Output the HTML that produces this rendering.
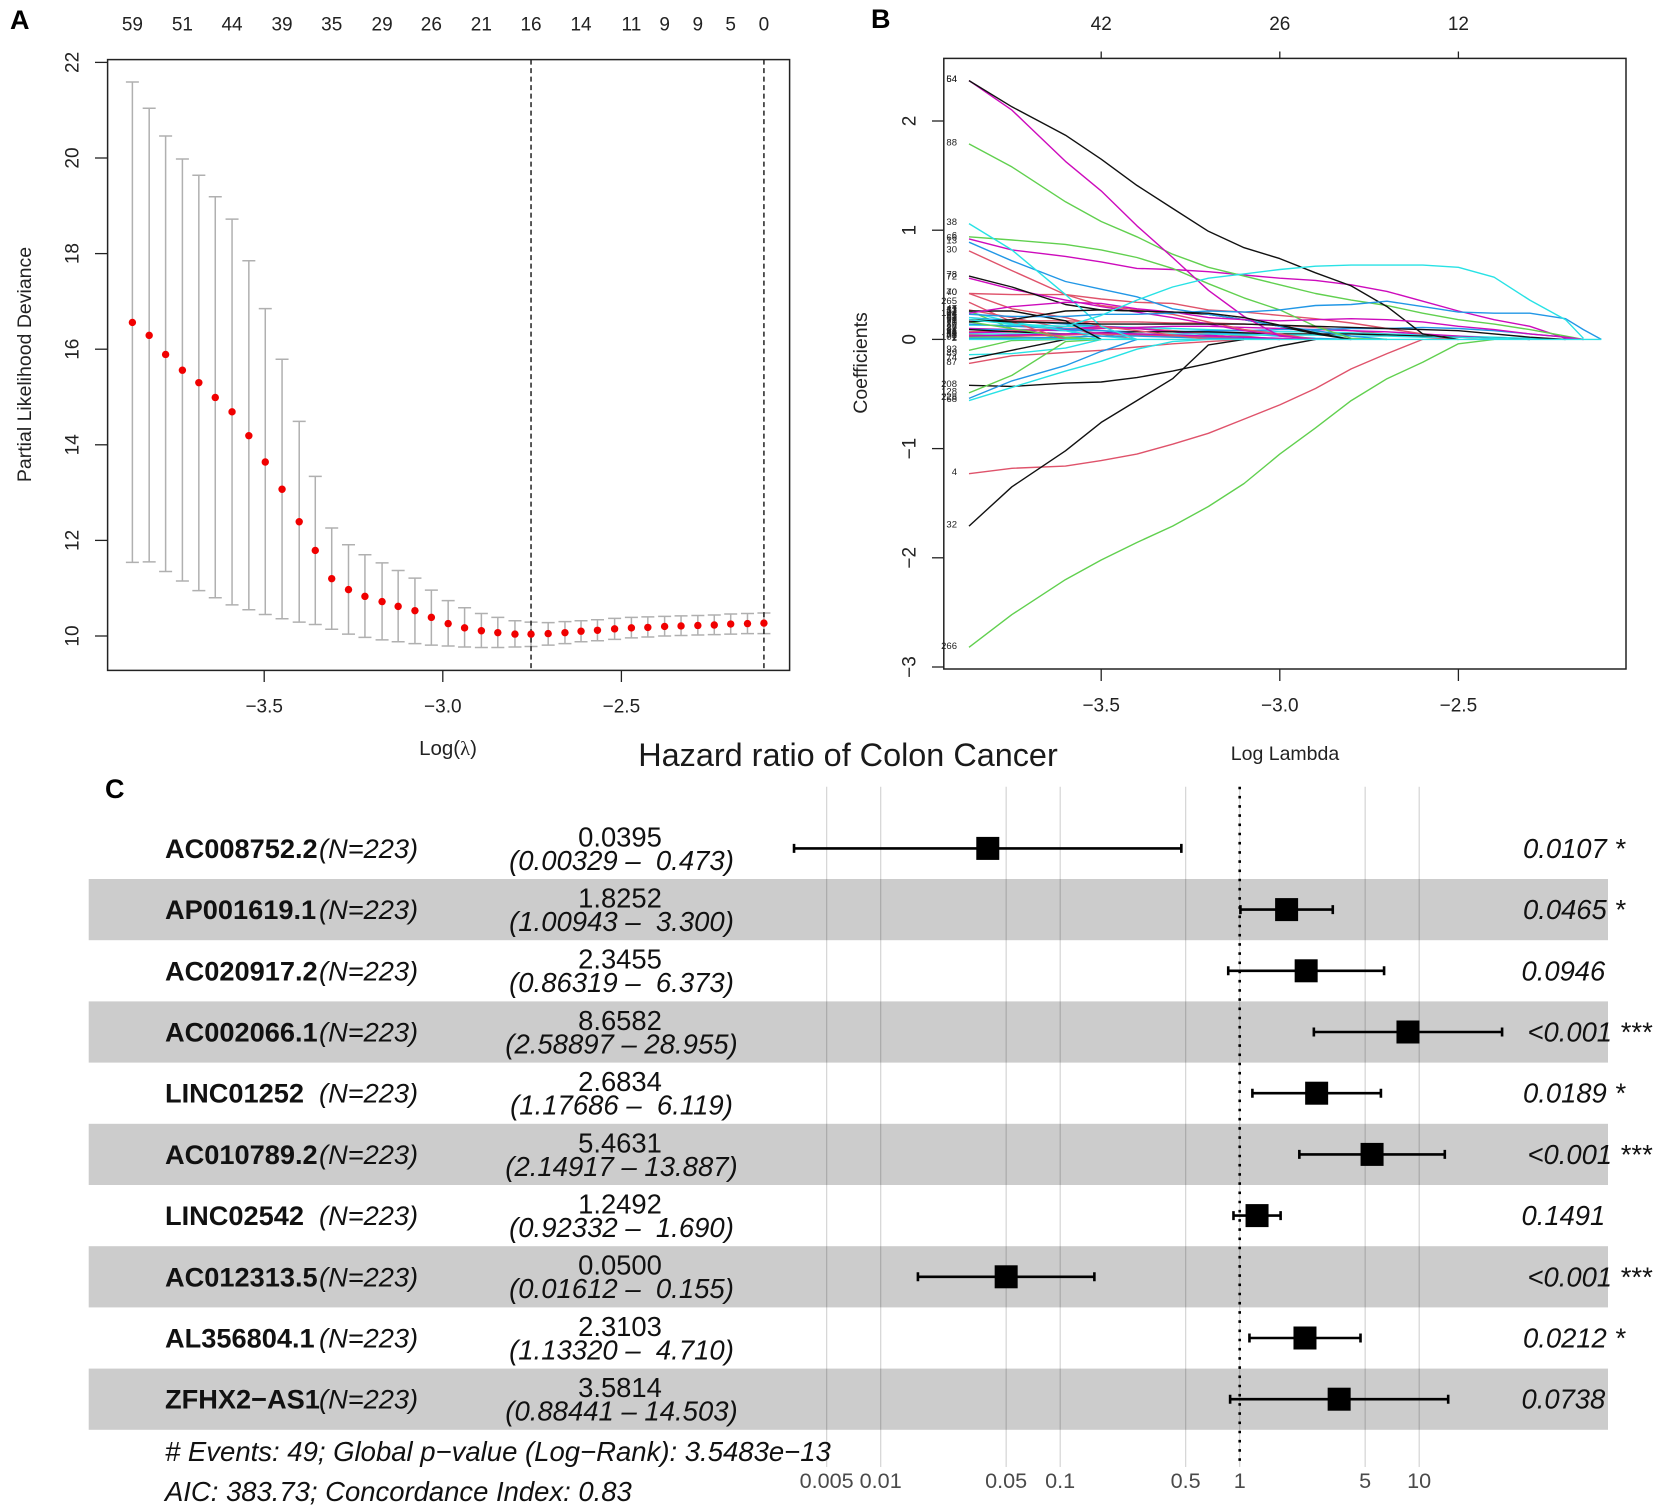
<!DOCTYPE html>
<html lang="en">
<head>
<meta charset="utf-8">
<title>LASSO selection and hazard ratio of Colon Cancer</title>
<style>
html,body{margin:0;padding:0;background:#fff;}
svg{display:block;font-family:"Liberation Sans",Arial,sans-serif;}
text{white-space:pre;}
</style>
</head>
<body>
<svg id="figure" xmlns="http://www.w3.org/2000/svg" width="1654" height="1509" viewBox="0 0 1654 1509">
  <rect x="0" y="0" width="1654" height="1509" fill="#fff"/>

  <g id="panelA"></g>
  <g id="panelB"></g>
  <g id="panelC"></g>

  <text x="10" y="29" font-size="27" font-weight="bold" fill="#000">A</text>
  <text x="871" y="28" font-size="27" font-weight="bold" fill="#000">B</text>
  <text x="105" y="798" font-size="27" font-weight="bold" fill="#000">C</text>

  <text transform="translate(25 364.5) rotate(-90)" text-anchor="middle" dominant-baseline="central" font-size="19.5" fill="#222">Partial Likelihood Deviance</text>
  <text x="448" y="755" text-anchor="middle" font-size="20.5" fill="#222">Log(<tspan font-family="'Liberation Serif',serif">λ</tspan>)</text>
  <text transform="translate(861 363) rotate(-90)" text-anchor="middle" dominant-baseline="central" font-size="19.5" fill="#222">Coefficients</text>
  <text x="1285" y="760" text-anchor="middle" font-size="19.5" fill="#222">Log Lambda</text>
  <text x="848" y="766" text-anchor="middle" font-size="32.4" fill="#1a1a1a">Hazard ratio of Colon Cancer</text>
  <text x="165" y="1461" font-size="27.5" font-style="italic" fill="#111"># Events: 49; Global p−value (Log−Rank): 3.5483e−13</text>
  <text x="165" y="1501" font-size="27.45" font-style="italic" fill="#111">AIC: 383.73; Concordance Index: 0.83</text>
</svg>

<script>
/* ---------- Panel A data ---------- */
const cvLambda = [-3.869,-3.822,-3.776,-3.729,-3.683,-3.637,-3.590,-3.543,-3.497,-3.450,-3.402,-3.357,-3.311,-3.264,-3.218,-3.170,-3.125,-3.078,-3.032,-2.985,-2.939,-2.892,-2.846,-2.798,-2.753,-2.705,-2.658,-2.613,-2.567,-2.519,-2.472,-2.426,-2.379,-2.333,-2.286,-2.240,-2.194,-2.147,-2.101];
const cvMean = [16.56,16.29,15.89,15.56,15.30,14.99,14.69,14.19,13.64,13.07,12.39,11.79,11.20,10.97,10.83,10.72,10.62,10.53,10.39,10.26,10.17,10.11,10.07,10.04,10.04,10.05,10.07,10.10,10.12,10.15,10.17,10.18,10.20,10.21,10.22,10.23,10.25,10.26,10.27];
const cvUpper = [21.59,21.04,20.46,19.98,19.64,19.19,18.72,17.85,16.85,15.79,14.49,13.34,12.26,11.91,11.70,11.53,11.37,11.21,10.96,10.74,10.59,10.47,10.39,10.32,10.29,10.28,10.30,10.32,10.34,10.37,10.39,10.40,10.41,10.42,10.43,10.44,10.46,10.47,10.48];
const cvLower = [11.54,11.55,11.35,11.15,10.95,10.80,10.65,10.55,10.45,10.36,10.29,10.24,10.14,10.04,9.97,9.92,9.88,9.84,9.81,9.79,9.77,9.76,9.76,9.77,9.78,9.81,9.84,9.88,9.90,9.93,9.96,9.98,10.00,10.01,10.02,10.03,10.04,10.05,10.05];
const cvYTicks = [10,12,14,16,18,20,22];
const cvXTicks = [-3.5,-3.0,-2.5];
const cvTopCounts = ["59","51","44","39","35","29","26","21","16","14","11","9","9","5","0"];
const cvTopIndex = [0,3,6,9,12,15,18,21,24,27,30,32,34,36,38];
const cvCutLambda = [-2.753,-2.101];

/* ---------- Panel B data ---------- */
const pathLambda = [-3.87,-3.75,-3.6,-3.5,-3.4,-3.3,-3.2,-3.1,-3.0,-2.9,-2.8,-2.7,-2.6,-2.5,-2.4,-2.3,-2.2,-2.15,-2.1];
const pathXTicks = [-3.5,-3.0,-2.5];
const pathYTicks = [-3,-2,-1,0,1,2];
const pathTopCounts = ["42","26","12"];
const pathLabels = ["47","12","33","51","91","20","26","37","58","61","15","82","44","19","73","59","8","95","101","27","93","89","87","74","208","128","228","68","4","32","266","265","40","70","72","78","30","13","66","6","38","88","64","54","11","17","104"];
const pathHues = ["red","cyan","green","blue","red","cyan","magenta","blue","green","red","magenta","black","cyan","blue","green","red","magenta","cyan","blue","green","green","cyan","red","black","black","green","blue","cyan","red","black","green","red","red","red","magenta","black","red","blue","magenta","green","cyan","green","magenta","black","black","magenta","blue"];
const pathValues = [
 [.27,.2,.1,.05,0],
 [.25,.16,.08,0],
 [.26,.1,0],
 [.2,.17,.14,.12,.1,.08,.06,.05,.03,.01,0],
 [.17,.17,.17,.16,.16,.15,.15,.14,.13,.11,.08,.05,.02,0],
 [.13,.13,.12,.12,.11,.1,.09,.08,.07,.07,.06,.05,.04,.03,.02,.01,0],
 [.1,.09,.09,.1,.11,.12,.12,.11,.1,.09,.08,.07,.05,.03,.01,0],
 [.09,.09,.08,.08,.07,.07,.08,.08,.09,.09,.1,.1,.11,.1,.08,.05,.02,0],
 [.03,.02,0],
 [.07,.08,.1,.11,.1,.08,.05,.03,0],
 [.06,.07,.09,.12,.1,.07,.04,.01,0],
 [.09,.07,.05,.06,.07,.07,.07,.06,.05,.05,.05,.04,.03,.02,.01,0],
 [.05,.05,.05,.05,.05,.05,.05,.04,.04,.04,.03,.03,.02,.02,.01,0],
 [.14,.12,.1,.08,.05,.03,.02,.01,0],
 [.02,.02,.01,0],
 [.04,.03,.04,.05,.04,.03,.02,0],
 [.03,.04,.05,.06,.05,.04,.03,.02,.01,0],
 [.2,.15,.08,.03,0],
 [.01,.01,.02,.03,.03,.02,.01,0],
 [.16,.1,.02,0],
 [-.1,-.01,0],
 [-.14,-.13,-.08,0],
 [-.22,-.15,-.12,-.1,-.07,-.04,-.02,0],
 [-.18,-.1,0],
 [-.42,-.43,-.40,-.39,-.35,-.29,-.22,-.14,-.06,0],
 [-.49,-.33,-.02,0],
 [-.54,-.38,-.24,-.11,0],
 [-.56,-.44,-.29,-.2,-.09,-.02,0],
 [-1.23,-1.18,-1.16,-1.11,-1.05,-.96,-.86,-.73,-.60,-.45,-.27,-.13,0],
 [-1.71,-1.35,-1.02,-.76,-.56,-.36,-.05,0],
 [-2.82,-2.52,-2.20,-2.02,-1.86,-1.71,-1.53,-1.32,-1.05,-.81,-.56,-.36,-.21,-.04,0],
 [.34,.16,0],
 [.42,.28,.2,.12,.08,.04,0],
 [.42,.41,.41,.37,.34,.33,.27,.25,.22,.19,.15,.1,.05,0],
 [.56,.46,.36,.30,.25,.20,.14,.08,.04,0],
 [.58,.48,.32,.27,.26,.25,.23,.18,.12,.05,0],
 [.81,.63,.41,.31,.27,.23,.16,.09,.05,0],
 [.89,.72,.53,.46,.39,.28,.23,.18,.12,.08,.03,0],
 [.92,.82,.76,.71,.65,.64,.62,.59,.56,.54,.50,.44,.35,.26,.18,.12,.01,0],
 [.94,.91,.87,.82,.75,.65,.51,.38,.27,.12,.01,0],
 [1.06,.82,.41,.12,0],
 [1.79,1.58,1.26,1.08,.94,.78,.66,.58,.50,.42,.36,.31,.24,.18,.14,.09,.03,0],
 [2.37,2.10,1.63,1.36,1.04,.75,.45,.21,.03,0],
 [2.37,2.13,1.87,1.65,1.41,1.20,.99,.84,.74,.61,.49,.30,.05,0],
 [.26,.26,.17,0],
 [.24,.30,.34,.33,.28,.25,.2,.18,.17,.18,.19,.18,.16,.12,.09,.05,.02,0],
 [.23,.21,.21,.23,.23,.24,.26,.25,.27,.31,.32,.35,.30,.25,.24,.24,.19,.09,0]
];
const pathExtraLabels = ["79","53","7","2"];
const pathExtraHues = ["black","black","cyan","cyan"];
const pathExtraValues = [
 [.16,.18,.26,.27,.26,.25,.24,.2,.13,.06,0],
 [.18,.16,.15,.14,.14,.14,.14,.14,.13,.12,.11,.1,.09,.08,.05,.02,0],
 [.18,.14,.12,.22,.36,.48,.56,.60,.64,.67,.68,.68,.68,.66,.57,.36,.18,.01],
 [0,0,0,0,0,0,0,0,0,0,0,0,0,0,0,0,0,0,0]
];

/* ---------- Panel C data ---------- */
const geneNames = ["AC008752.2","AP001619.1","AC020917.2","AC002066.1","LINC01252","AC010789.2","LINC02542","AC012313.5","AL356804.1","ZFHX2−AS1"];
const hazardRatio = [0.0395,1.8252,2.3455,8.6582,2.6834,5.4631,1.2492,0.0500,2.3103,3.5814];
const ciLower = [0.00329,1.00943,0.86319,2.58897,1.17686,2.14917,0.92332,0.01612,1.13320,0.88441];
const ciUpper = [0.473,3.300,6.373,28.955,6.119,13.887,1.690,0.155,4.710,14.503];
const hrLabels = ["0.0395","1.8252","2.3455","8.6582","2.6834","5.4631","1.2492","0.0500","2.3103","3.5814"];
const ciLabels = ["(0.00329 –  0.473)","(1.00943 –  3.300)","(0.86319 –  6.373)","(2.58897 – 28.955)","(1.17686 –  6.119)","(2.14917 – 13.887)","(0.92332 –  1.690)","(0.01612 –  0.155)","(1.13320 –  4.710)","(0.88441 – 14.503)"];
const pLabels = ["0.0107 *","0.0465 *","0.0946","<0.001 ***","0.0189 *","<0.001 ***","0.1491","<0.001 ***","0.0212 *","0.0738"];
const forestTicks = [0.005,0.01,0.05,0.1,0.5,1,5,10];
const forestTickLabels = ["0.005","0.01","0.05","0.1","0.5","1","5","10"];

/* ---------- Helpers ---------- */
const NS = "http://www.w3.org/2000/svg";
function make(tag, parent, props) {
  const n = document.createElementNS(NS, tag);
  for (const k in props) n.setAttribute(k, props[k]);
  parent.appendChild(n);
  return n;
}
const palette = {black:"#111111", red:"#DF536B", green:"#61D04F", blue:"#2297E6", cyan:"#28E2E5", magenta:"#CD0BBC"};
const fmtMinus = v => (v < 0 ? "−" : "") + Math.abs(v);
const fmtFixed = v => (v < 0 ? "−" : "") + Math.abs(v).toFixed(1);

/* ---------- Panel A ---------- */
(function () {
  const g = document.getElementById("panelA");
  const xA = v => 264.2 + (v + 3.5) * 357.2;
  const yA = v => 636 - (v - 10) * 47.8;
  const box = make("rect", g, {x:107.6, y:59.6, width:682, height:610.8, fill:"none", stroke:"#222", "stroke-width":1.5});
  
  

  cvYTicks.forEach(v => {
    const t = make("line", g, {x1:95, x2:107.6, y1:yA(v), y2:yA(v), stroke:"#222", "stroke-width":1.3});
    
    
    const l = make("text", g, {transform:`translate(73 ${yA(v)}) rotate(-90)`, "text-anchor":"middle", "dominant-baseline":"central", "font-size":19, fill:"#222"});
    l.textContent = v;
    
    
  });
  cvXTicks.forEach(v => {
    const t = make("line", g, {x1:xA(v), x2:xA(v), y1:670.4, y2:682, stroke:"#222", "stroke-width":1.3});
    
    
    const l = make("text", g, {x:xA(v), y:707, "text-anchor":"middle", "dominant-baseline":"central", "font-size":19, fill:"#222"});
    l.textContent = fmtFixed(v);
    
    
  });
  cvTopCounts.forEach((c, i) => {
    const l = make("text", g, {x:xA(cvLambda[cvTopIndex[i]]), y:25, "text-anchor":"middle", "dominant-baseline":"central", "font-size":19, fill:"#222"});
    l.textContent = c;
    
    
  });
  cvLambda.forEach((lam, i) => {
    const x = xA(lam);
    const bar = make("path", g, {d:`M${x-6.5} ${yA(cvUpper[i])}H${x+6.5}M${x} ${yA(cvUpper[i])}V${yA(cvLower[i])}M${x-6.5} ${yA(cvLower[i])}H${x+6.5}`, fill:"none", stroke:"#b0b0b0", "stroke-width":1.5});
    
    
  });
  cvCutLambda.forEach(v => {
    const d = make("line", g, {x1:xA(v), x2:xA(v), y1:59.6, y2:670.4, stroke:"#222", "stroke-width":1.5, "stroke-dasharray":"5 3.5"});
    
    
  });
  cvLambda.forEach((lam, i) => {
    const c = make("circle", g, {cx:xA(lam), cy:yA(cvMean[i]), r:3.7, fill:"#f00000"});
    
    
  });
})();

/* ---------- Panel B ---------- */
(function () {
  const g = document.getElementById("panelB");
  const xB = v => 1101.2 + (v + 3.5) * 357.2;
  const yB = v => 339.4 - v * 109.2;

  const allValues = pathValues.concat(pathExtraValues);
  const allHues = pathHues.concat(pathExtraHues);
  const allLabels = pathLabels.concat(pathExtraLabels);

  allValues.forEach((vals, i) => {
    const pts = vals.map((v, j) => xB(pathLambda[j]).toFixed(1) + "," + yB(v).toFixed(1)).join(" ");
    const p = make("polyline", g, {points:pts, fill:"none", stroke:palette[allHues[i]], "stroke-width":1.4, "stroke-linejoin":"round"});
    
    
    const l = make("text", g, {x:957, y:yB(vals[0]) - 1, "text-anchor":"end", "dominant-baseline":"central", "font-size":9.5, fill:"#222"});
    l.textContent = allLabels[i];
    
    
  });

  const box = make("rect", g, {x:943.8, y:58.4, width:682.2, height:610.6, fill:"none", stroke:"#222", "stroke-width":1.5});
  
  

  pathYTicks.forEach(v => {
    const t = make("line", g, {x1:932, x2:943.8, y1:yB(v), y2:yB(v), stroke:"#222", "stroke-width":1.3});
    
    
    const l = make("text", g, {transform:`translate(910 ${yB(v)}) rotate(-90)`, "text-anchor":"middle", "dominant-baseline":"central", "font-size":19, fill:"#222"});
    l.textContent = fmtMinus(v);
    
    
  });
  pathXTicks.forEach((v, i) => {
    const t = make("line", g, {x1:xB(v), x2:xB(v), y1:669, y2:681, stroke:"#222", "stroke-width":1.3});
    
    
    const l = make("text", g, {x:xB(v), y:706, "text-anchor":"middle", "dominant-baseline":"central", "font-size":19, fill:"#222"});
    l.textContent = fmtFixed(v);
    
    
    const tt = make("line", g, {x1:xB(v), x2:xB(v), y1:51.5, y2:58.4, stroke:"#222", "stroke-width":1.3});
    
    
    const tl = make("text", g, {x:xB(v), y:24.5, "text-anchor":"middle", "dominant-baseline":"central", "font-size":19, fill:"#222"});
    tl.textContent = pathTopCounts[i];
    
    
  });
})();

/* ---------- Panel C ---------- */
(function () {
  const g = document.getElementById("panelC");
  const xC = v => 1239.7 + 179.5 * Math.log10(v);
  const rowTop = i => 817.8 + 61.2 * i;
  const rowMid = i => rowTop(i) + 30.6;

  geneNames.forEach((name, i) => {
    if (i % 2 === 1) {
      const b = make("rect", g, {x:88.7, y:rowTop(i), width:1519.3, height:61.2, fill:"#cccccc"});
      
      
    }
  });

  forestTicks.forEach((v, i) => {
    const t = make("line", g, {x1:xC(v), x2:xC(v), y1:786.7, y2:1467, stroke:"#000", "stroke-opacity":0.17, "stroke-width":1.2});
    
    
    const l = make("text", g, {x:xC(v), y:1488, "text-anchor":"middle", "font-size":21.6, fill:"#4a4a4a"});
    l.textContent = forestTickLabels[i];
    
    
  });

  const ref = make("line", g, {x1:xC(1), x2:xC(1), y1:786.7, y2:1467, stroke:"#000", "stroke-width":2.6, "stroke-dasharray":"2.6 6.6"});
  
  

  geneNames.forEach((name, i) => {
    const mid = rowMid(i);
    const n = make("text", g, {x:165, y:mid + 9.5, "font-size":27.2, "font-weight":"bold", fill:"#111"});
    n.textContent = name;
    
    
    const c = make("text", g, {x:418, y:mid + 9.5, "text-anchor":"end", "font-size":27.2, "font-style":"italic", fill:"#111"});
    c.textContent = "(N=223)";
    
    
    const h = make("text", g, {x:620, y:rowTop(i) + 28.5, "text-anchor":"middle", "font-size":27.4, fill:"#111"});
    h.textContent = hrLabels[i];
    
    
    const ci = make("text", g, {x:621.5, y:rowTop(i) + 52, "text-anchor":"middle", "font-size":27.5, "font-style":"italic", fill:"#111"});
    ci.textContent = ciLabels[i];
    
    
    const pStart = pLabels[i].charAt(0) === "<" ? 1527.5 : (pLabels[i].indexOf("*") > 0 ? 1523 : 1521.5);
    const p = make("text", g, {x:pStart, y:mid + 9.5, "font-size":27.4, "font-style":"italic", fill:"#111"});
    p.textContent = pLabels[i];
    
    

    const lo = xC(ciLower[i]);
    const hi = xC(ciUpper[i]);
    const w = make("path", g, {d:`M${lo} ${mid-4.5}V${mid+4.5}M${lo} ${mid}H${hi}M${hi} ${mid-4.5}V${mid+4.5}`, fill:"none", stroke:"#000", "stroke-width":2.6});
    
    
    const s = make("rect", g, {x:xC(hazardRatio[i]) - 11.5, y:mid - 11.5, width:23, height:23, fill:"#000"});
    
    
  });
})();
</script>
</body>
</html>
